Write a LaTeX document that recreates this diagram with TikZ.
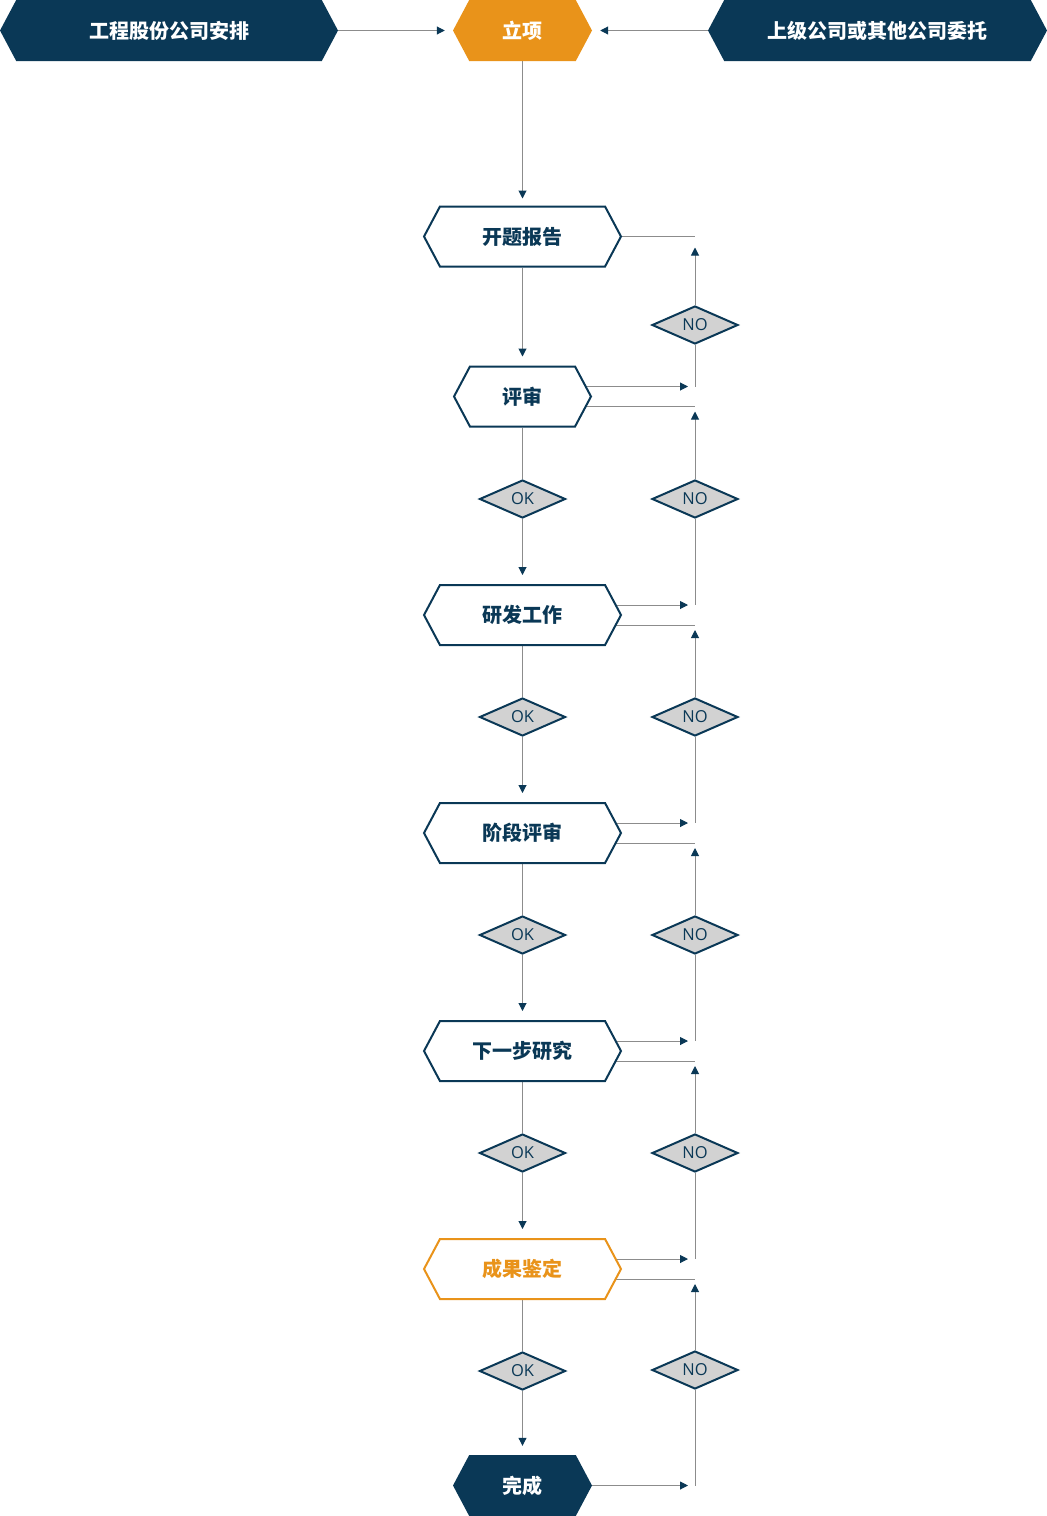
\documentclass[tikz,border=0pt]{standalone}
\usepackage{fontspec}
\usetikzlibrary{shapes.symbols,shapes.geometric,arrows.meta,backgrounds}
\newfontfamily\cjk{Noto Sans CJK SC}
\newfontfamily\latinfont{Open Sans}
\definecolor{deepblue}{HTML}{0A3856}
\definecolor{floworange}{HTML}{E9931A}
\definecolor{linegray}{HTML}{8C8C8C}
\definecolor{diagray}{HTML}{D2D2D2}

\tikzset{
  hexa/.style={signal, signal to=west and east, signal pointer angle=124,
    minimum height=60pt, inner sep=0pt,
    font=\cjk\bfseries\fontsize{20pt}{24pt}\selectfont},
  topbox/.style={hexa, fill=deepblue, text=white, minimum height=61pt},
  stage/.style={hexa, draw=deepblue, line width=2pt, fill=white, text=deepblue},
  check/.style={diamond, draw=deepblue, line width=2pt, fill=diagray, text=deepblue,
    minimum width=86pt, minimum height=38pt, inner sep=0pt,
    font=\latinfont\fontsize{16.5pt}{18pt}\selectfont},
  conn/.style={draw=linegray, line width=1pt},
  arrowto/.style={-{Triangle[length=8pt,width=8pt,color=deepblue]}}
}

\begin{document}
\begin{tikzpicture}[x=1pt,y=-1pt]
  \useasboundingbox (0,0) rectangle (1047,1516);

  % top row
  \node[topbox, minimum width=338pt] (gongcheng) at (169,30.5) {工程股份公司安排};
  \node[topbox, minimum width=139pt, fill=floworange] (lixiang) at (522.5,30.5) {立项};
  \node[topbox, minimum width=339pt] (shangji) at (877.5,30.5) {上级公司或其他公司委托};

  % main column
  \node[stage, minimum width=197pt] (kaiti) at (522.5,236.5) {开题报告};
  \node[stage, minimum width=137pt] (pingshen) at (522.5,396.5) {评审};
  \node[stage, minimum width=197pt] (yanfa) at (522.5,615) {研发工作};
  \node[stage, minimum width=197pt] (jieduan) at (522.5,833) {阶段评审};
  \node[stage, minimum width=197pt] (xiayibu) at (522.5,1051) {下一步研究};
  \node[stage, minimum width=197pt, draw=floworange, text=floworange] (chengguo) at (522.5,1269) {成果鉴定};
  \node[topbox, minimum width=139pt] (wancheng) at (522.5,1485.5) {完成};

  % checks
  \node[check] (ok1) at (522.5,499) {OK};
  \node[check] (ok2) at (522.5,717) {OK};
  \node[check] (ok3) at (522.5,935) {OK};
  \node[check] (ok4) at (522.5,1153) {OK};
  \node[check] (ok5) at (522.5,1371) {OK};
  \node[check] (no1) at (695,325) {NO};
  \node[check] (no2) at (695,499) {NO};
  \node[check] (no3) at (695,717) {NO};
  \node[check] (no4) at (695,935) {NO};
  \node[check] (no5) at (695,1153) {NO};
  \node[check] (no6) at (695,1370) {NO};

  \begin{scope}[on background layer]
    % top row
    \draw[conn, arrowto, shorten >=8pt] (gongcheng.east) -- (lixiang.west);
    \draw[conn, arrowto, shorten >=8pt] (shangji.west) -- (lixiang.east);
    \draw[conn, arrowto, shorten >=7pt] (lixiang.south) -- (kaiti.north);
    % left column
    \draw[conn, arrowto, shorten >=9pt] (kaiti.south) -- (pingshen.north);
    \foreach \a/\k/\b in {pingshen/ok1/yanfa, yanfa/ok2/jieduan, jieduan/ok3/xiayibu,
                          xiayibu/ok4/chengguo, chengguo/ok5/wancheng}{
      \draw[conn] (\a.south) -- (\k.north);
      \draw[conn, arrowto, shorten >=9pt] (\k.south) -- (\b.north);
    }
    % right column
    \draw[conn] (kaiti.center) -- (kaiti -| no1);
    \draw[conn, arrowto, shorten >=11pt] (no1.north) -- (no1 |- kaiti);
    \foreach \a/\up/\dn in {pingshen/no1/no2, yanfa/no2/no3, jieduan/no3/no4,
                            xiayibu/no4/no5, chengguo/no5/no6}{
      \coordinate (\a-hi) at ([yshift=10pt]\a.center);
      \coordinate (\a-lo) at ([yshift=-10pt]\a.center);
      \draw[conn, arrowto, shorten >=7pt] (\a-hi) -- (\a-hi -| \up);
      \draw[conn] (\up.south) -- (\a-hi -| \up);
      \draw[conn] (\a-lo) -- (\a-lo -| \dn);
      \draw[conn, arrowto, shorten >=5pt] (\dn.north) -- (\a-lo -| \dn);
    }
    \draw[conn, arrowto, shorten >=7pt] (wancheng.center) -- (wancheng -| no6);
    \draw[conn] (no6.south) -- (no6 |- wancheng);
  \end{scope}
\end{tikzpicture}
\end{document}
